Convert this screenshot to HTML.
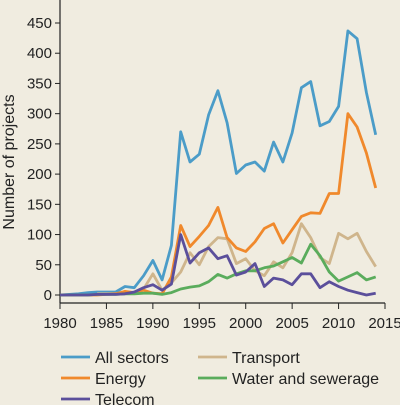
<!DOCTYPE html>
<html><head><meta charset="utf-8"><style>
body{margin:0;background:#f0ece0;}
svg{display:block;font-family:"Liberation Sans",sans-serif;}
</style></head><body>
<svg id="chart" width="400" height="405" viewBox="0 0 400 405">
<rect width="400" height="405" fill="#f0ece0"/>
<g id="axes"></g><g id="lines"></g><g id="legend"></g>
</svg>
<script>
const years=[];for(let y=1980;y<=2014;y++)years.push(y);
const allSectors=[0,1,2,4,5,5,5,14,12,32,57,25,82,270,220,233,298,338,285,201,215,220,205,253,220,268,343,353,280,287,312,437,424,335,265];
const energy=[0,0,0,0,0,1,2,6,4,8,3,2,30,115,80,97,115,145,95,78,72,88,110,118,86,108,130,136,135,168,168,300,278,235,177];
const transport=[null,null,null,null,2,2,2,5,4,10,35,8,20,38,70,50,80,95,93,52,60,40,32,55,45,70,118,95,62,52,102,93,102,72,47];
const water=[0,0,0,0,1,1,1,2,2,3,3,1,4,10,13,15,22,34,28,35,40,40,45,48,55,62,53,84,65,38,23,30,37,25,30];
const telecom=[0,0,0,0,1,1,1,2,5,12,17,8,18,100,53,70,78,60,65,33,38,52,14,28,25,17,35,35,12,22,14,8,4,0,3];
const yTicks=[0,50,100,150,200,250,300,350,400,450];
const xTicks=[1980,1985,1990,1995,2000,2005,2010,2015];
const series=[
 {name:"All sectors",vals:allSectors,color:"#4b9cc8",lx:61,ly:357},
 {name:"Transport",vals:transport,color:"#cfb58c",lx:198,ly:357},
 {name:"Energy",vals:energy,color:"#f0892c",lx:61,ly:378},
 {name:"Water and sewerage",vals:water,color:"#5aac5c",lx:198,ly:378},
 {name:"Telecom",vals:telecom,color:"#5b4f9b",lx:61,ly:399}];
const X=y=>60+(y-1980)*(325/35);
const Y=v=>295-v*(272/450);
const NS="http://www.w3.org/2000/svg";
function mk(t,a,p){const e=document.createElementNS(NS,t);for(const k in a)e.setAttribute(k,a[k]);p.appendChild(e);return e;}
const ax=document.getElementById('axes');
let l=mk('line',{x1:60,y1:0,x2:60,y2:303,stroke:'#222','stroke-width':1.2},ax);


l=mk('line',{x1:60,y1:303,x2:385,y2:303,stroke:'#222','stroke-width':1.2},ax);


yTicks.forEach(v=>{
 const t=mk('line',{x1:55,x2:60,y1:Y(v),y2:Y(v),stroke:'#222','stroke-width':1},ax);
 
 
 const tx=mk('text',{x:52,y:Y(v)+5,'text-anchor':'end','font-size':15,fill:'#222'},ax);tx.textContent=v;
 
 
});
xTicks.forEach(v=>{
 const t=mk('line',{x1:X(v),x2:X(v),y1:303,y2:309,stroke:'#222','stroke-width':1},ax);
 
 
 const tx=mk('text',{x:X(v),y:328,'text-anchor':'middle','font-size':15,fill:'#222'},ax);tx.textContent=v;
 
 
});
const yt=mk('text',{x:0,y:0,transform:'translate(14,162) rotate(-90)','text-anchor':'middle','font-size':16,fill:'#222'},ax);
yt.textContent='Number of projects';


const lg=document.getElementById('lines'),leg=document.getElementById('legend');
series.forEach(s=>{
 let d='',pen=false;
 s.vals.forEach((v,i)=>{if(v==null){pen=false;return;}d+=(pen?'L':'M')+X(years[i]).toFixed(1)+','+Y(v).toFixed(1);pen=true;});
 const p=mk('path',{d:d,fill:'none',stroke:s.color,'stroke-width':2.8,'stroke-linejoin':'round'},lg);
 
 
 const ll=mk('line',{x1:s.lx,x2:s.lx+29,y1:s.ly,y2:s.ly,stroke:s.color,'stroke-width':2.8},leg);
 
 
 const lt=mk('text',{x:s.lx+34,y:s.ly+6,'font-size':16,fill:'#222'},leg);lt.textContent=s.name;
 
 
});
</script>
</body></html>
